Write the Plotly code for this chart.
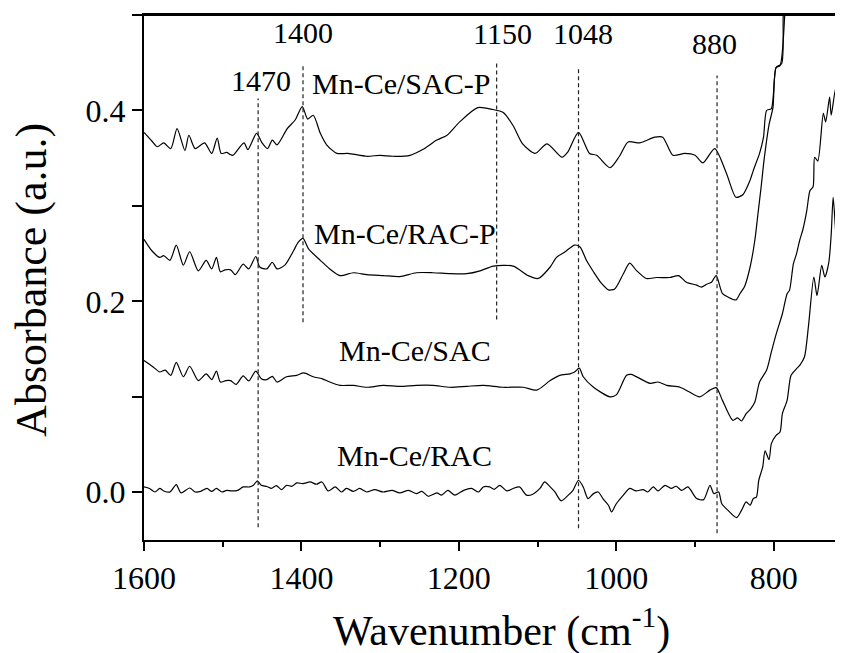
import plotly.graph_objects as go

# spectra (wavenumber in cm-1, absorbance in a.u.)
sacp_w = [1600, 1590, 1583, 1575, 1566, 1558, 1548, 1543, 1535, 1523, 1514, 1507, 1502, 1495, 1491,
          1487, 1473, 1468, 1457, 1450, 1443, 1437, 1431, 1418, 1408, 1399, 1392, 1385, 1376, 1368,
          1355, 1341, 1317, 1300, 1284, 1262, 1246, 1228, 1215, 1199, 1176, 1157, 1144, 1131, 1119,
          1103, 1088, 1069, 1062, 1048, 1034, 1025, 1008, 996, 985, 970, 951, 941, 928, 913, 900,
          890, 875, 860, 848, 839, 830, 826, 818, 813, 809, 803, 797, 792, 786, 782]
sacp_a = [0.377, 0.368, 0.362, 0.366, 0.360, 0.381, 0.358, 0.374, 0.360, 0.366, 0.355, 0.371, 0.355,
          0.356, 0.354, 0.353, 0.366, 0.359, 0.376, 0.366, 0.360, 0.369, 0.364, 0.381, 0.390, 0.404,
          0.391, 0.395, 0.376, 0.364, 0.355, 0.355, 0.352, 0.353, 0.352, 0.353, 0.359, 0.369, 0.374,
          0.388, 0.403, 0.401, 0.398, 0.384, 0.365, 0.355, 0.365, 0.351, 0.356, 0.377, 0.355, 0.353,
          0.340, 0.352, 0.367, 0.366, 0.372, 0.372, 0.353, 0.355, 0.353, 0.345, 0.360, 0.334, 0.309,
          0.312, 0.327, 0.337, 0.355, 0.372, 0.400, 0.402, 0.445, 0.447, 0.500, 0.580]

racp_w = [1600, 1590, 1580, 1575, 1567, 1559, 1550, 1542, 1531, 1521, 1514, 1508, 1503, 1497, 1490,
          1484, 1474, 1467, 1458, 1453, 1444, 1437, 1431, 1421, 1410, 1404, 1398, 1391, 1376, 1364,
          1351, 1334, 1317, 1296, 1275, 1254, 1233, 1211, 1190, 1173, 1156, 1131, 1112, 1099, 1084,
          1076, 1065, 1053, 1046, 1038, 1029, 1019, 1010, 1002, 991, 983, 974, 962, 949, 932, 921,
          911, 898, 892, 885, 879, 876, 873, 865, 858, 848, 843, 837, 830, 824, 820, 816, 812, 806,
          801, 797, 790, 788, 785]
racp_a = [0.265, 0.253, 0.246, 0.248, 0.243, 0.259, 0.238, 0.252, 0.232, 0.243, 0.234, 0.246, 0.231,
          0.233, 0.233, 0.228, 0.239, 0.234, 0.247, 0.236, 0.234, 0.241, 0.234, 0.238, 0.253, 0.262,
          0.266, 0.255, 0.243, 0.234, 0.227, 0.230, 0.228, 0.227, 0.226, 0.230, 0.230, 0.229, 0.229,
          0.232, 0.237, 0.237, 0.227, 0.224, 0.236, 0.246, 0.252, 0.259, 0.257, 0.243, 0.231, 0.219,
          0.212, 0.213, 0.229, 0.240, 0.232, 0.224, 0.225, 0.225, 0.227, 0.220, 0.217, 0.215, 0.218,
          0.220, 0.224, 0.227, 0.208, 0.2045, 0.2015, 0.208, 0.2157, 0.236, 0.264, 0.292, 0.320,
          0.350, 0.385, 0.403, 0.445, 0.449, 0.498, 0.580]

sac_w = [1600, 1588, 1580, 1573, 1566, 1559, 1550, 1542, 1531, 1521, 1514, 1508, 1503, 1496, 1490,
         1483, 1474, 1467, 1458, 1451, 1444, 1437, 1431, 1419, 1406, 1397, 1385, 1374, 1364, 1351,
         1334, 1317, 1296, 1275, 1254, 1233, 1211, 1190, 1169, 1144, 1118, 1101, 1084, 1072, 1059,
         1053, 1047, 1042, 1029, 1008, 1000, 987, 981, 957, 947, 936, 919, 907, 894, 881, 873, 865,
         852, 846, 841, 835, 830, 824, 818, 809, 803, 797, 789, 783, 780, 775, 771, 767, 763, 758,
         754, 750, 748, 744, 737, 734, 729, 727, 721, 718, 716, 712]
sac_a = [0.138, 0.131, 0.126, 0.128, 0.1225, 0.136, 0.121, 0.132, 0.117, 0.124, 0.118, 0.127, 0.1155,
         0.117, 0.117, 0.113, 0.122, 0.1166, 0.127, 0.119, 0.118, 0.1215, 0.1155, 0.121, 0.1225, 0.125,
         0.121, 0.119, 0.1155, 0.112, 0.112, 0.110, 0.112, 0.111, 0.112, 0.112, 0.110, 0.111, 0.112,
         0.110, 0.110, 0.107, 0.117, 0.1225, 0.124, 0.126, 0.130, 0.121, 0.110, 0.100, 0.102, 0.1225,
         0.1235, 0.114, 0.1155, 0.112, 0.110, 0.105, 0.100, 0.107, 0.1096, 0.096, 0.0754, 0.078,
         0.0747, 0.0824, 0.0866, 0.0946, 0.1155, 0.128, 0.147, 0.1654, 0.187, 0.208, 0.2115, 0.2395,
         0.250, 0.264, 0.275, 0.295, 0.316, 0.320, 0.351, 0.347, 0.397, 0.388, 0.414, 0.395, 0.424,
         0.417, 0.424, 0.423]

rac_w = [1600, 1593, 1586, 1580, 1575, 1567, 1559, 1553, 1542, 1535, 1528, 1520, 1514, 1508, 1501,
         1495, 1489, 1481, 1474, 1466, 1461, 1456, 1451, 1444, 1438, 1432, 1425, 1419, 1412, 1406,
         1398, 1389, 1381, 1374, 1366, 1357, 1349, 1343, 1334, 1326, 1317, 1307, 1296, 1285, 1275,
         1264, 1254, 1247, 1239, 1228, 1222, 1214, 1205, 1194, 1184, 1175, 1169, 1161, 1155, 1148,
         1139, 1131, 1123, 1114, 1106, 1097, 1091, 1084, 1078, 1070, 1061, 1055, 1048, 1042, 1036,
         1029, 1023, 1017, 1010, 1006, 1000, 991, 983, 975, 966, 960, 953, 947, 938, 930, 924, 917,
         909, 898, 889, 881, 876, 870, 866, 858, 847, 841, 835, 830, 826, 822, 819, 814, 811, 806,
         803, 797, 792, 789, 783, 778, 771, 767, 761, 756, 749, 745, 739, 735, 730, 727, 724.5, 721,
         719, 716, 712]
rac_a = [0.0056, 0.004, 0.0003, 0.004, 0.0014, 0.0003, 0.008, -0.0007, 0.0045, 0.0003, 0.001, 0.004,
         0.001, 0.004, 0.0003, 0.002, 0.0014, 0.002, 0.0056, 0.0056, 0.0073, 0.012, 0.0073, 0.006,
         0.004, 0.007, 0.0028, 0.0073, 0.0063, 0.0098, 0.009, 0.0108, 0.0084, 0.0108, 0.0014, 0.0056,
         0.0003, 0.004, 0.001, 0.004, 0.0003, 0.0028, 0.0003, 0.002, -0.0007, 0.002, -0.0014, 0.001,
         -0.0042, -0.0007, -0.003, 0.002, -0.003, 0.002, 0.004, 0.0003, 0.0056, 0.0056, 0.003, 0.0073,
         0.0014, 0.004, 0.0056, -0.003, -0.002, 0.004, 0.0108, 0.0056, 0.0003, -0.009, -0.003, 0.002,
         0.0126, 0.0056, -0.0066, -0.0014, 0.0003, -0.0066, -0.0136, -0.0206, -0.012, -0.003, 0.004,
         0.0014, 0.0028, 0.0003, 0.0056, 0.0014, 0.0073, 0.004, 0.0063, 0.002, 0.0056, -0.0066,
         -0.0077, 0.0073, -0.0014, 0.0003, -0.012, -0.019, -0.0265, -0.019, -0.0101, -0.0136, -0.0066,
         -0.005, 0.0126, 0.0265, 0.0433, 0.0342, 0.051, 0.0597, 0.0632, 0.0824, 0.0963, 0.1225, 0.1295,
         0.133, 0.1417, 0.173, 0.2255, 0.206, 0.2377, 0.2255, 0.241, 0.270, 0.309, 0.270, 0.257, 0.255,
         0.249]

# dashed marker lines for the assigned bands
band_pos = [1455, 1398, 1152, 1048, 872]
band_top = [0.4126, 0.449, 0.450, 0.444, 0.4366]
band_bottom = [-0.0366, 0.178, 0.181, -0.0377, -0.043]

band_labels = ["1470", "1400", "1150", "1048", "880"]
band_label_x = [1452, 1398, 1145, 1042, 875]
band_label_y = [0.431, 0.482, 0.481, 0.481, 0.470]

sample_names = ["Mn-Ce/SAC-P", "Mn-Ce/RAC-P", "Mn-Ce/SAC", "Mn-Ce/RAC"]
sample_x = [1273, 1268, 1256, 1256]
sample_y = [0.428, 0.271, 0.149, 0.039]

FONT = '"Liberation Serif", "Times New Roman", Times, serif'

fig = go.Figure()

for w, a in [(sacp_w, sacp_a), (racp_w, racp_a), (sac_w, sac_a), (rac_w, rac_a)]:
    fig.add_trace(go.Scatter(x=w, y=a, mode="lines", showlegend=False,
                             line=dict(color="black", width=1.2, shape="spline", smoothing=0.7)))

# all band lines in one trace, split by None
dash_x, dash_y = [], []
for p, top, bot in zip(band_pos, band_top, band_bottom):
    dash_x += [p, p, None]
    dash_y += [bot, top, None]
fig.add_trace(go.Scatter(x=dash_x, y=dash_y, mode="lines",
                         line=dict(color="#222", width=1.2, dash="4px,3px"), showlegend=False))

for txt, x, y in zip(band_labels, band_label_x, band_label_y):
    fig.add_annotation(x=x, y=y, text=txt, showarrow=False,
                       font=dict(family=FONT, size=30, color="black"))

for txt, x, y in zip(sample_names, sample_x, sample_y):
    fig.add_annotation(x=x, y=y, text=txt, showarrow=False,
                       font=dict(family=FONT, size=30, color="black"))

# axis titles placed by hand (the frame is cut off on the right)
fig.add_annotation(xref="paper", yref="paper", x=0.511, y=-0.168, xanchor="center", yanchor="middle",
                   text="Wavenumber (cm<sup>-1</sup>)", showarrow=False,
                   font=dict(family=FONT, size=42, color="black"))
fig.add_annotation(xref="paper", yref="paper", x=-0.162, y=0.495, xanchor="center", yanchor="middle",
                   text="Absorbance (a.u.)", textangle=-90, showarrow=False,
                   font=dict(family=FONT, size=44, color="black"))

# top frame line
fig.add_shape(type="line", xref="paper", yref="paper", x0=0, x1=1, y0=1, y1=1,
              line=dict(color="black", width=2), layer="above")

# page body has an 8px margin, so the figure is shrunk by it and the margins shifted
fig.update_layout(
    width=835, height=645,
    margin=dict(l=136, r=0, t=7, b=113),
    plot_bgcolor="white", paper_bgcolor="white",
    font=dict(family=FONT, color="black"),
)
fig.update_xaxes(
    range=[1600, 712], showgrid=False, zeroline=False,
    showline=True, linecolor="black", linewidth=2, mirror=True,
    tickmode="linear", tick0=800, dtick=200,
    ticks="outside", ticklen=9, tickwidth=2, tickcolor="black",
    tickfont=dict(family=FONT, size=32, color="black"),
    minor=dict(dtick=100, ticks="outside", ticklen=5, tickwidth=2, tickcolor="black", showgrid=False),
)
fig.update_yaxes(
    range=[-0.05, 0.5], showgrid=False, zeroline=False,
    showline=True, linecolor="black", linewidth=2,
    tickmode="linear", tick0=0, dtick=0.2, tickformat=".1f",
    ticks="outside", ticklen=10, tickwidth=2, tickcolor="black",
    tickfont=dict(family=FONT, size=32, color="black"),
    minor=dict(dtick=0.1, ticks="outside", ticklen=10, tickwidth=2, tickcolor="black", showgrid=False),
)

fig.write_html("out.html")
